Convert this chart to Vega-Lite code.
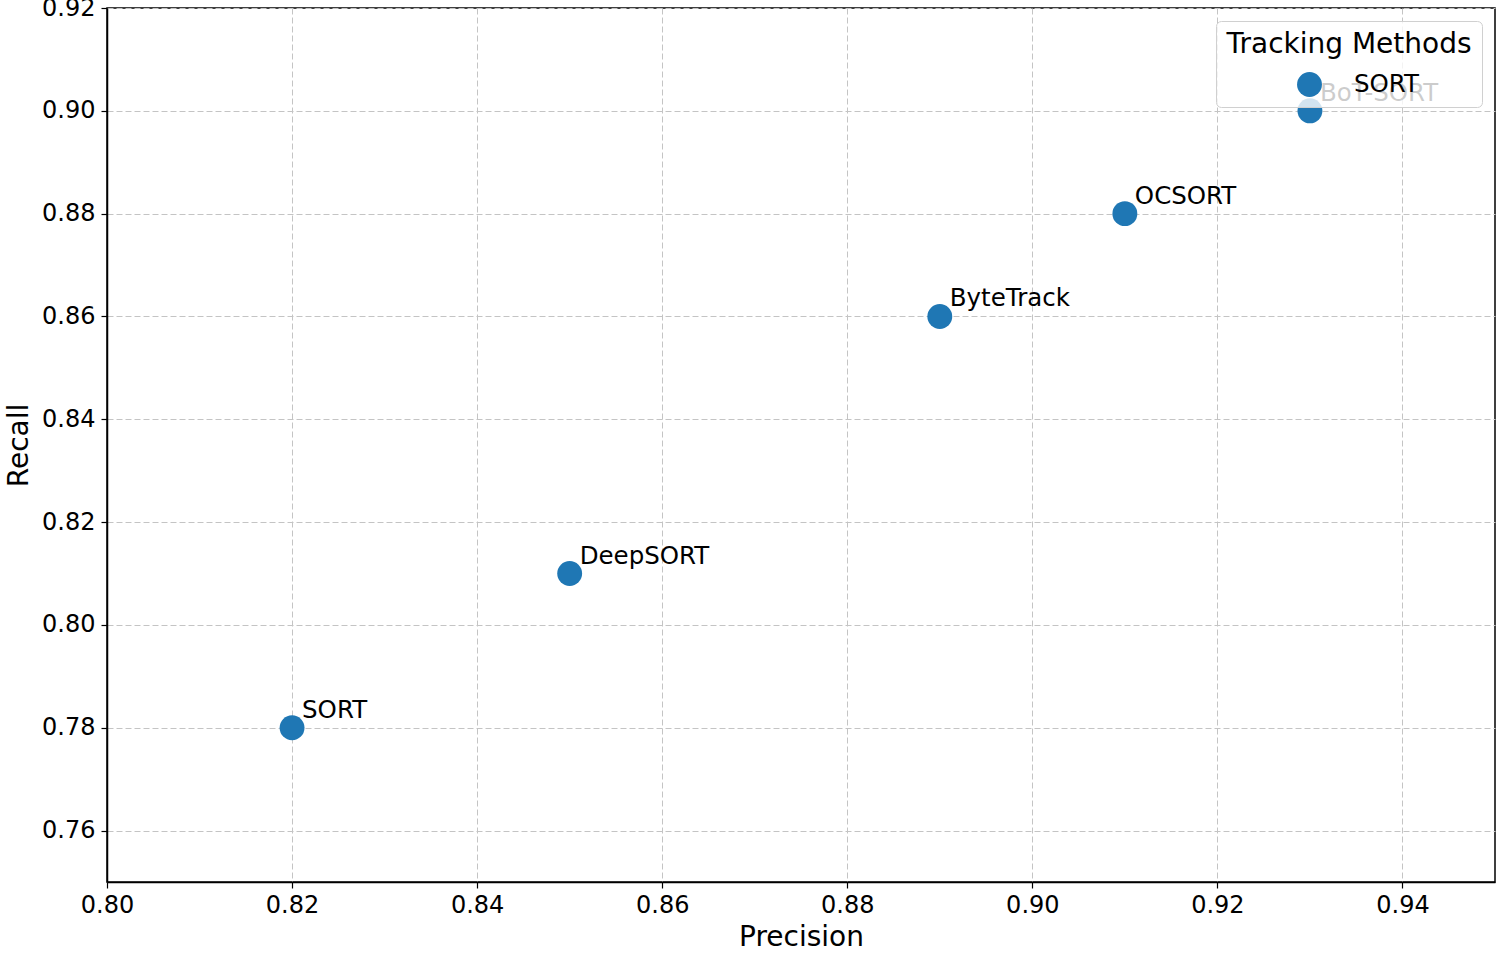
{
  "$schema": "https://vega.github.io/schema/vega-lite/v6.json",
  "width": 1388,
  "height": 874,
  "autosize": {"type": "none"},
  "padding": {"left": 107, "top": 8, "right": 5, "bottom": 71},
  "background": "white",
  "config": {
    "font": "DejaVu Sans",
    "view": {"stroke": "black", "strokeWidth": 1.5},
    "axis": {
      "domainColor": "black",
      "domainWidth": 1.5,
      "tickColor": "black",
      "tickSize": 6,
      "tickWidth": 1.2,
      "labelFont": "DejaVu Sans",
      "labelFontSize": 24,
      "labelColor": "black",
      "labelFlush": false,
      "titleFont": "DejaVu Sans",
      "titleFontSize": 28,
      "titleFontWeight": "normal",
      "titleColor": "black",
      "gridColor": "#c4c4c4",
      "gridDash": [6, 3],
      "gridWidth": 1
    }
  },
  "data": {
    "values": [
      {"method": "SORT", "precision": 0.82, "recall": 0.78},
      {"method": "DeepSORT", "precision": 0.85, "recall": 0.81},
      {"method": "ByteTrack", "precision": 0.89, "recall": 0.86},
      {"method": "OCSORT", "precision": 0.91, "recall": 0.88},
      {"method": "BoT-SORT", "precision": 0.93, "recall": 0.90}
    ]
  },
  "encoding": {
    "x": {
      "field": "precision",
      "type": "quantitative",
      "scale": {"domain": [0.8, 0.95], "nice": false, "zero": false},
      "axis": {"title": "Precision", "values": [0.80, 0.82, 0.84, 0.86, 0.88, 0.90, 0.92, 0.94], "format": ".2f", "labelPadding": 5, "titlePadding": 6}
    },
    "y": {
      "field": "recall",
      "type": "quantitative",
      "scale": {"domain": [0.75, 0.92], "nice": false, "zero": false},
      "axis": {"title": "Recall", "values": [0.76, 0.78, 0.80, 0.82, 0.84, 0.86, 0.88, 0.90, 0.92], "format": ".2f", "labelPadding": 6, "titlePadding": 8}
    }
  },
  "layer": [
    {
      "mark": {"type": "point", "filled": true, "opacity": 1, "size": 620, "shape": "circle"},
      "encoding": {
        "color": {
          "datum": "SORT",
          "type": "nominal",
          "scale": {"range": ["#1f77b4"]},
          "legend": {
            "title": "Tracking Methods",
            "orient": "top-right",
            "offset": 13,
            "titleFontSize": 28,
            "titleFont": "DejaVu Sans",
            "titleFontWeight": "normal",
            "titleColor": "black",
            "titleAnchor": "middle",
            "titleLimit": 500,
            "titlePadding": 12,
            "labelFontSize": 24.5,
            "labelFont": "DejaVu Sans",
            "labelColor": "black",
            "labelLimit": 300,
            "symbolSize": 620,
            "symbolType": "circle",
            "symbolOffset": 17,
            "labelOffset": 31,
            "padding": 10,
            "fillColor": "rgba(255,255,255,0.8)",
            "strokeColor": "#d0d0d0",
            "cornerRadius": 5
          }
        }
      }
    },
    {
      "mark": {"type": "text", "align": "left", "baseline": "alphabetic", "dx": 10, "dy": -10, "fontSize": 24.5, "font": "DejaVu Sans", "color": "black"},
      "encoding": {"text": {"field": "method"}}
    }
  ]
}
